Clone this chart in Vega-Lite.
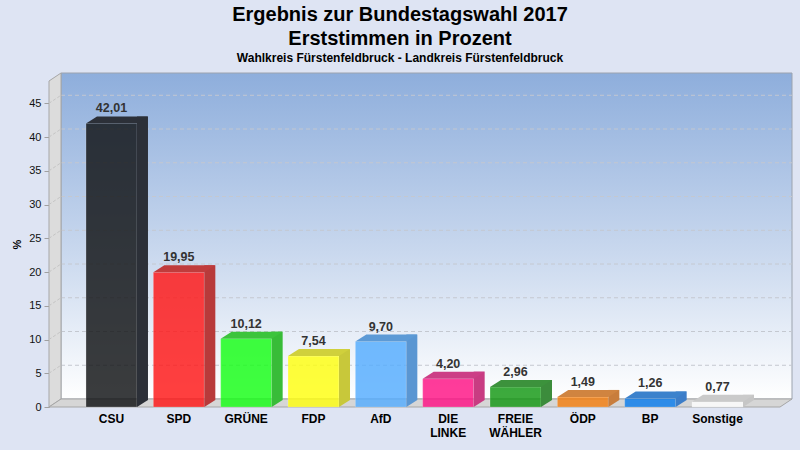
{
  "$schema": "https://vega.github.io/schema/vega-lite/v6.json",
  "autosize": {"type": "none"},
  "padding": {"left": 49, "top": 81, "right": 20, "bottom": 43},
  "width": 731,
  "height": 326,
  "background": "#dee4f3",
  "title": {
    "text": ["Ergebnis zur Bundestagswahl 2017", "Erststimmen in Prozent"],
    "subtitle": "Wahlkreis Fürstenfeldbruck - Landkreis Fürstenfeldbruck",
    "fontSize": 20,
    "fontWeight": "bold",
    "lineHeight": 24,
    "color": "#000000",
    "subtitleFontSize": 12,
    "subtitleFontWeight": "bold",
    "subtitleColor": "#000000",
    "subtitlePadding": 4,
    "anchor": "middle",
    "frame": "group",
    "dx": -14.5,
    "offset": 7
  },
  "data": {
    "values": [
      {"party": "CSU", "pct": 42.01},
      {"party": "SPD", "pct": 19.95},
      {"party": "GRÜNE", "pct": 10.12},
      {"party": "FDP", "pct": 7.54},
      {"party": "AfD", "pct": 9.70},
      {"party": "DIE LINKE", "pct": 4.20},
      {"party": "FREIE WÄHLER", "pct": 2.96},
      {"party": "ÖDP", "pct": 1.49},
      {"party": "BP", "pct": 1.26},
      {"party": "Sonstige", "pct": 0.77}
    ]
  },
  "layer": [
    {
      "data": {"values": [{}]},
      "mark": {
        "type": "rect",
        "xOffset": 12, "x2Offset": 12, "yOffset": -8, "y2Offset": -8,
        "stroke": "#9ca3ae", "strokeWidth": 1,
        "fill": {
          "gradient": "linear", "x1": 0, "y1": 0, "x2": 0, "y2": 1,
          "stops": [
            {"offset": 0, "color": "#8eaedc"},
            {"offset": 0.55, "color": "#c9d8ee"},
            {"offset": 1, "color": "#ffffff"}
          ]
        }
      },
      "encoding": {
        "x": {"value": 0},
        "x2": {"value": "width"},
        "y": {
          "datum": 48.3, "type": "quantitative", "title": "%",
          "scale": {"domain": [0, 48.3], "nice": false, "zero": true}
        },
        "y2": {"datum": 0}
      }
    },
    {
      "data": {"values": [{"v": 5}, {"v": 10}, {"v": 15}, {"v": 20}, {"v": 25}, {"v": 30}, {"v": 35}, {"v": 40}, {"v": 45}]},
      "mark": {"type": "rule", "xOffset": 12, "x2Offset": 12, "yOffset": -8, "color": "#c4c8d0", "strokeDash": [4, 3], "strokeWidth": 1},
      "encoding": {
        "x": {"value": 0},
        "x2": {"value": "width"},
        "y": {"field": "v", "type": "quantitative", "title": "%"}
      }
    },
    {
      "data": {"values": [{}]},
      "mark": {"type": "point", "shape": "M 0 0 L 12 -8 L 12 -334 L 0 -326 Z", "size": 4, "filled": true, "opacity": 1, "fill": "#dcdcdc", "stroke": "#a6a6a6", "strokeWidth": 1},
      "encoding": {
        "x": {"value": 0},
        "y": {"datum": 0, "type": "quantitative", "title": "%"}
      }
    },
    {
      "data": {"values": [{"v": 5}, {"v": 10}, {"v": 15}, {"v": 20}, {"v": 25}, {"v": 30}, {"v": 35}, {"v": 40}, {"v": 45}]},
      "mark": {"type": "point", "shape": "M 0 0 L 12 -8", "size": 4, "filled": false, "opacity": 1, "stroke": "#c4c4c4", "strokeWidth": 1, "strokeDash": [3, 2]},
      "encoding": {
        "x": {"value": 0},
        "y": {"field": "v", "type": "quantitative", "title": "%"}
      }
    },
    {
      "data": {"values": [{}]},
      "mark": {"type": "point", "shape": "M 0 0 L 12 -8 L 743 -8 L 731 0 Z", "size": 4, "filled": true, "opacity": 1, "fill": "#d6d6d6", "stroke": "#a6a6a6", "strokeWidth": 1},
      "encoding": {
        "x": {"value": 0},
        "y": {"datum": 0, "type": "quantitative", "title": "%"}
      }
    },
    {
      "mark": {"type": "bar", "width": 51, "opacity": 0.82, "stroke": "#ffffff", "strokeOpacity": 0.25, "strokeWidth": 1},
      "encoding": {
        "x": {
          "field": "party", "type": "nominal", "sort": null,
          "scale": {"paddingInner": 0, "paddingOuter": 0.428},
          "axis": {
            "title": null, "domain": false, "ticks": false, "tickSize": 0,
            "labelAngle": 0, "labelPadding": 6, "labelFontSize": 12, "labelFontWeight": "bold",
            "labelColor": "#000000", "labelLineHeight": 14,
            "labelExpr": "split(datum.label, ' ')"
          }
        },
        "y": {"field": "pct", "type": "quantitative", "title": "%"},
        "y2": {"datum": 0},
        "color": {
          "field": "party", "type": "nominal", "legend": null,
          "scale": {
            "domain": ["CSU", "SPD", "GRÜNE", "FDP", "AfD", "DIE LINKE", "FREIE WÄHLER", "ÖDP", "BP", "Sonstige"],
            "range": ["#101214", "#ff1616", "#16ff16", "#ffff10", "#55adff", "#ff1285", "#139813", "#f47f10", "#0a7ded", "#ffffff"]
          }
        }
      }
    },
    {
      "mark": {"type": "bar", "width": 11, "xOffset": 31, "yOffset": -7, "y2Offset": -7, "opacity": 1},
      "encoding": {
        "x": {"field": "party", "type": "nominal", "sort": null},
        "y": {"field": "pct", "type": "quantitative", "title": "%"},
        "y2": {"datum": 0},
        "color": {
          "field": "party", "type": "nominal", "legend": null,
          "scale": {
            "domain": ["CSU", "SPD", "GRÜNE", "FDP", "AfD", "DIE LINKE", "FREIE WÄHLER", "ÖDP", "BP", "Sonstige"],
            "range": ["#2c3038", "#b83a3a", "#38bc38", "#c8c83a", "#5a96d2", "#c83c82", "#3c8c3c", "#c87d3c", "#3c7dc8", "#c6c6c6"]
          }
        }
      }
    },
    {
      "mark": {"type": "point", "shape": "M 25.5 0 L 25.5 -7 L 36.5 -7 Z", "size": 4, "filled": true, "opacity": 1},
      "encoding": {
        "x": {"field": "party", "type": "nominal", "sort": null},
        "y": {"datum": 0, "type": "quantitative", "title": "%"},
        "color": {
          "field": "party", "type": "nominal", "legend": null,
          "scale": {
            "domain": ["CSU", "SPD", "GRÜNE", "FDP", "AfD", "DIE LINKE", "FREIE WÄHLER", "ÖDP", "BP", "Sonstige"],
            "range": ["#2c3038", "#b83a3a", "#38bc38", "#c8c83a", "#5a96d2", "#c83c82", "#3c8c3c", "#c87d3c", "#3c7dc8", "#c6c6c6"]
          }
        }
      }
    },
    {
      "mark": {"type": "point", "shape": "M -25.5 0 L 25.5 0 L 36.5 -7 L -14.5 -7 Z", "size": 4, "filled": true, "opacity": 1},
      "encoding": {
        "x": {"field": "party", "type": "nominal", "sort": null},
        "y": {"field": "pct", "type": "quantitative", "title": "%"},
        "color": {
          "field": "party", "type": "nominal", "legend": null,
          "scale": {
            "domain": ["CSU", "SPD", "GRÜNE", "FDP", "AfD", "DIE LINKE", "FREIE WÄHLER", "ÖDP", "BP", "Sonstige"],
            "range": ["#2c3038", "#c03c3c", "#3cc43c", "#d0d03c", "#5c9ad6", "#cc3e86", "#3c923c", "#d08440", "#3c82cc", "#cacaca"]
          }
        }
      }
    },
    {
      "mark": {"type": "text", "dy": -11, "baseline": "alphabetic", "fontSize": 12.5, "fontWeight": "bold", "color": "#333333"},
      "encoding": {
        "x": {"field": "party", "type": "nominal", "sort": null},
        "y": {"field": "pct", "type": "quantitative", "title": "%"},
        "text": {"field": "pct", "type": "quantitative", "format": ".2f"}
      }
    }
  ],
  "resolve": {"scale": {"color": "independent"}},
  "config": {
    "font": "Liberation Sans",
    "view": {"stroke": null},
    "axisY": {
      "tickCount": 10,
      "titleFontSize": 11, "titleFontWeight": "bold", "titleColor": "#000000", "titlePadding": 6,
      "grid": false, "domain": true, "domainColor": "#a0a0a0",
      "ticks": true, "tickSize": 5, "tickColor": "#a0a0a0",
      "labelFontSize": 11, "labelColor": "#111111", "labelPadding": 3
    },
    "locale": {"number": {"decimal": ",", "thousands": ".", "grouping": [3], "currency": ["", " €"]}}
  }
}
